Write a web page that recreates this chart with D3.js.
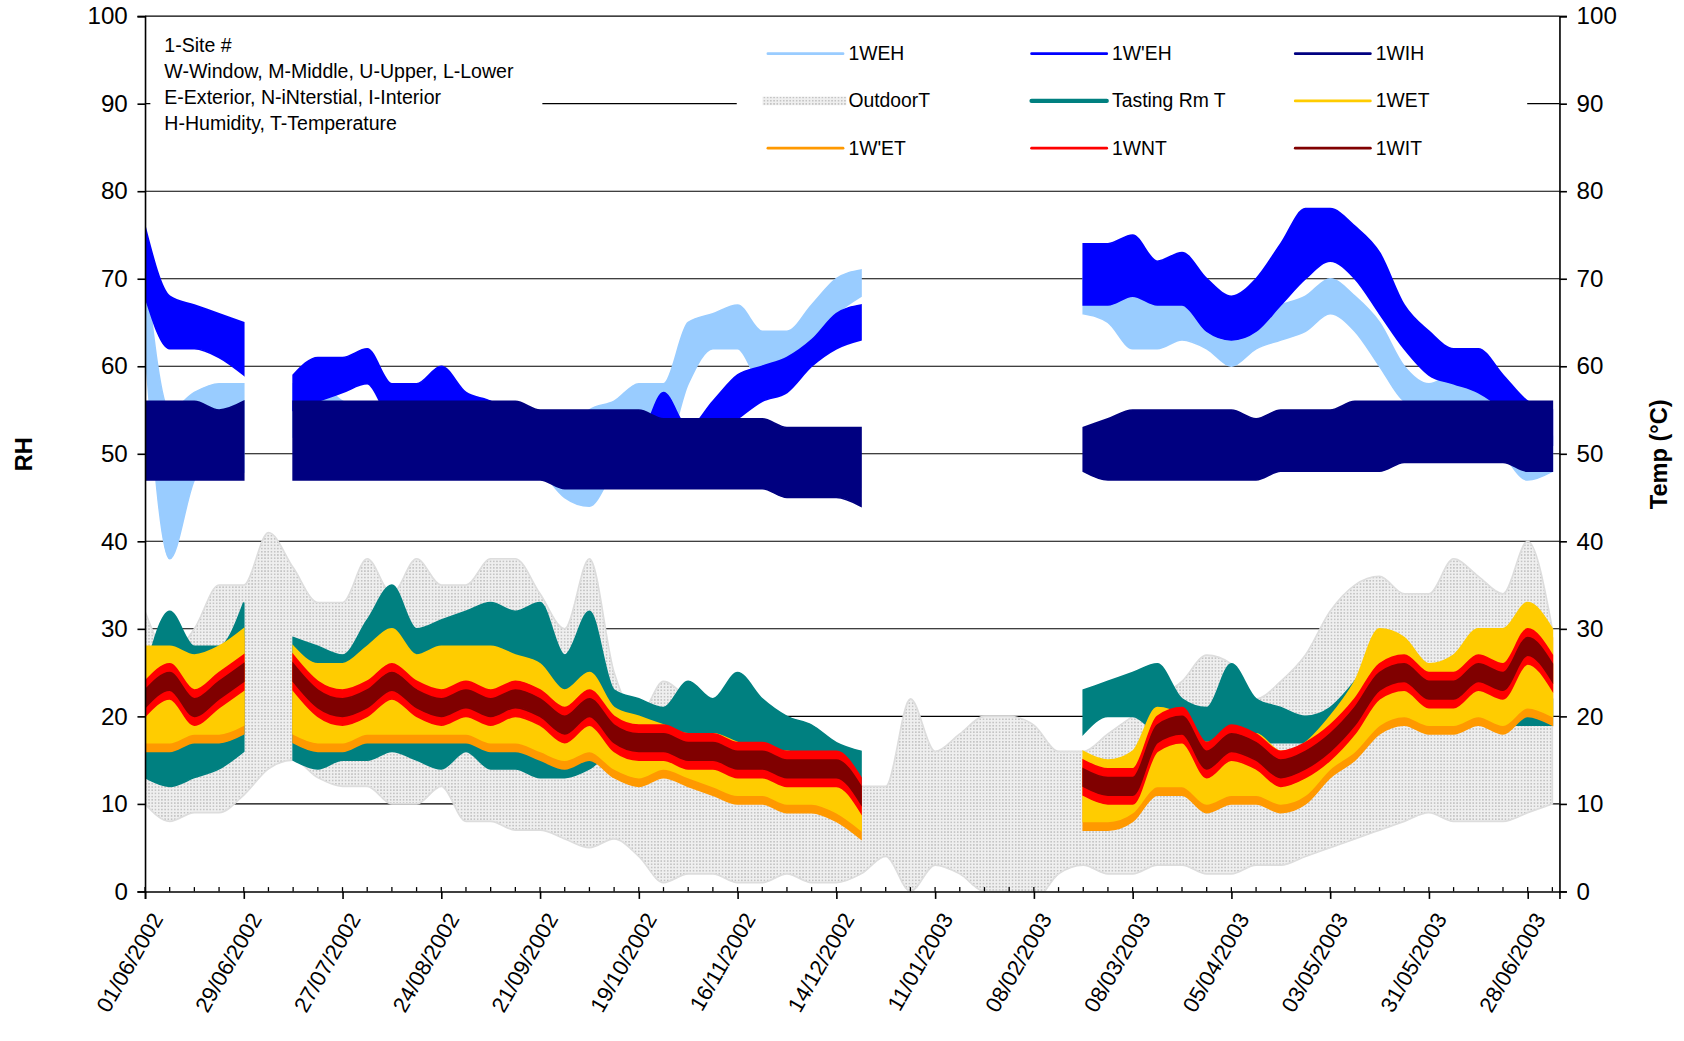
<!DOCTYPE html>
<html lang="en">
<head>
<meta charset="UTF-8">
<title>Site 1 RH and Temperature</title>
<style>
  body { margin: 0; background: #fff; }
  svg text { font-family: "Liberation Sans", Arial, sans-serif; }
</style>
<script src="https://d3js.org/d3.v7.min.js"></script>
</head>
<body>
<svg id="chart" width="1684" height="1041"></svg>
<script>
// weekly samples starting 01/06/2002 (58 weeks); each series stored as low / high of the daily swing
const N = null;
const startDate = new Date(2002, 5, 1);
const weeks = d3.range(58).map(i => d3.timeDay.offset(startDate, i * 7));

const tickLabels = ["01/06/2002","29/06/2002","27/07/2002","24/08/2002","21/09/2002","19/10/2002",
  "16/11/2002","14/12/2002","11/01/2003","08/02/2003","08/03/2003","05/04/2003","03/05/2003",
  "31/05/2003","28/06/2003"];

const weh_lo = [62,38,47,50,48,N,52,54,50,50,48,50,50,50,50,49,48,45,44,48,50,50,58,62,62,58,60,63,66,68,N,N,N,N,N,N,N,N,66,65,62,62,63,62,60,62,63,64,66,64,60,56,55,55,54,50,47,48];
const weh_hi = [72,55,57,58,58,N,58,58,56,55,55,56,56,55,55,54,53,52,55,56,58,58,65,66,67,64,64,67,70,71,N,N,N,N,N,N,N,N,70,69,68,68,68,66,65,66,67,68,70,68,65,60,58,59,58,55,52,52];

const wpeh_lo = [68,62,62,61,59,N,55,56,57,58,54,55,56,53,52,50,49,48,47,47,48,50,48,52,54,56,57,60,62,63,N,N,N,N,N,N,N,N,67,67,68,67,67,64,63,64,67,70,72,70,66,62,59,58,57,55,52,51];
const wpeh_hi = [76,68,67,66,65,N,59,61,61,62,58,58,60,57,56,54,53,52,51,52,52,57,53,56,59,60,61,63,66,67,N,N,N,N,N,N,N,N,74,74,75,72,73,70,68,70,74,78,78,76,73,67,64,62,62,59,56,55];

const wih_lo = [47,47,47,47,47,N,47,47,47,47,47,47,47,47,47,47,47,46,46,46,46,46,46,46,46,46,45,45,45,44,N,N,N,N,N,N,N,N,48,47,47,47,47,47,47,47,48,48,48,48,48,49,49,49,49,49,48,48];
const wih_hi = [56,56,56,55,56,N,56,56,56,56,56,56,56,56,56,56,55,55,55,55,55,54,54,54,54,54,53,53,53,53,N,N,N,N,N,N,N,N,53,54,55,55,55,55,55,54,55,55,55,56,56,56,56,56,56,56,56,56];

const out_lo = [10,8,9,9,11,14,15,13,12,12,10,10,12,8,8,7,7,6,5,6,4,1,2,2,1,1,2,1,1,2,4,0,3,2,0,0,-1,2,3,2,2,3,3,2,2,3,3,4,5,6,7,8,9,8,8,8,9,10];
const out_hi = [32,27,30,35,35,41,37,33,33,38,34,38,35,35,38,38,34,30,38,25,20,24,22,20,18,18,17,16,16,12,12,22,16,18,20,20,19,16,16,18,20,22,24,27,26,22,24,27,32,35,36,34,34,38,36,34,40,30];

const tast_lo = [13,12,13,14,16,N,15,14,15,15,16,15,14,16,14,14,13,13,14,16,16,16,16,16,14,14,14,13,12,12,N,N,N,N,N,N,N,N,18,20,20,18,17,17,18,17,17,17,17,19,20,21,21,21,21,19,19,19];
const tast_hi = [25,32,28,28,33,N,29,28,27,31,35,30,31,32,33,32,33,27,32,23,22,21,24,22,25,22,20,19,17,16,N,N,N,N,N,N,N,N,23,24,25,26,22,21,26,22,21,20,21,24,28,27,25,26,26,24,24,22];

const wpet_lo = [16,16,17,17,18,N,17,16,16,17,17,17,17,17,16,16,15,14,15,13,12,13,12,11,10,10,9,9,8,6,N,N,N,N,N,N,N,N,7,7,8,11,11,9,10,10,9,10,13,15,18,19,18,18,19,18,20,19];
const wpet_hi = [27,27,26,27,29,N,27,25,25,27,29,26,27,27,27,26,25,22,24,20,19,18,17,17,16,15,15,14,14,11,N,N,N,N,N,N,N,N,15,14,15,20,19,16,17,17,15,16,19,23,29,28,25,26,29,29,32,29];

const wet_lo = [17,17,18,18,19,N,18,17,17,18,18,18,18,18,17,17,16,15,16,14,13,14,13,12,11,11,10,10,9,7,N,N,N,N,N,N,N,N,8,8,9,12,12,10,11,11,10,11,14,16,19,20,19,19,20,19,21,20];
const wet_hi = [28,28,27,28,30,N,28,26,26,28,30,27,28,28,28,27,26,23,25,21,20,19,18,18,17,16,16,15,15,12,N,N,N,N,N,N,N,N,16,15,16,21,20,17,18,18,16,17,20,24,30,29,26,27,30,30,33,30];

const wnt_lo = [20,22,19,21,23,N,23,20,19,20,22,20,19,20,19,20,19,17,19,16,15,15,14,14,13,13,12,12,12,9,N,N,N,N,N,N,N,N,11,10,10,16,17,13,15,14,12,13,15,18,22,23,21,21,23,22,26,23];
const wnt_hi = [24,26,23,25,27,N,27,24,23,24,26,24,23,24,23,24,23,21,23,20,19,19,18,18,17,17,16,16,16,13,N,N,N,N,N,N,N,N,15,14,14,20,21,17,19,18,16,17,19,22,26,27,25,25,27,26,30,27];

const wit_lo = [21,23,20,22,24,N,24,21,20,21,23,21,20,21,20,21,20,18,20,17,16,16,15,15,14,14,13,13,13,10,N,N,N,N,N,N,N,N,12,11,11,17,18,14,16,15,13,14,16,19,23,24,22,22,24,23,27,24];
const wit_hi = [23,25,22,24,26,N,26,23,22,23,25,23,22,23,22,23,22,20,22,19,18,18,17,17,16,16,15,15,15,12,N,N,N,N,N,N,N,N,14,13,13,19,20,16,18,17,15,16,18,21,25,26,24,24,26,25,29,26];

const series = [
  { name: "OutdoorT",     lo: out_lo,  hi: out_hi,  color: "#d8d8d8", pattern: true },
  { name: "Tasting Rm T", lo: tast_lo, hi: tast_hi, color: "#008080" },
  { name: "1W'ET",        lo: wpet_lo, hi: wpet_hi, color: "#ff9900" },
  { name: "1WET",         lo: wet_lo,  hi: wet_hi,  color: "#ffcc00" },
  { name: "1WNT",         lo: wnt_lo,  hi: wnt_hi,  color: "#ff0000" },
  { name: "1WIT",         lo: wit_lo,  hi: wit_hi,  color: "#800000" },
  { name: "1WEH",         lo: weh_lo,  hi: weh_hi,  color: "#99ccff" },
  { name: "1W'EH",        lo: wpeh_lo, hi: wpeh_hi, color: "#0000ff" },
  { name: "1WIH",         lo: wih_lo,  hi: wih_hi,  color: "#000080" }
];

const legendOrder = ["1WEH","1W'EH","1WIH","OutdoorT","Tasting Rm T","1WET","1W'ET","1WNT","1WIT"];
const notes = ["1-Site #","W-Window, M-Middle, U-Upper, L-Lower","E-Exterior, N-iNterstial, I-Interior","H-Humidity, T-Temperature"];

// layout was measured on a 1568px wide copy, so everything is scaled up to 1684
const svg = d3.select("#chart").append("g").attr("transform", `scale(${1684 / 1568})`);
const pL = 135, pR = 1452, pT = 15, pB = 830;

const x = d3.scaleTime()
  .domain([startDate, d3.timeDay.offset(startDate, 401)])
  .range([pL, pR]);
const y = d3.scaleLinear().domain([0, 100]).range([pB, pT]);

// dotted pattern for outdoor temperature
const defs = svg.append("defs");
const pat = defs.append("pattern").attr("id", "dots").attr("width", 3).attr("height", 3)
  .attr("patternUnits", "userSpaceOnUse");
pat.append("rect").attr("width", 3).attr("height", 3).attr("fill", "#efefef");
pat.append("rect").attr("width", 1.5).attr("height", 1.5).attr("fill", "#c4c4c4");
defs.append("clipPath").attr("id", "plotclip").append("rect")
  .attr("x", pL).attr("y", pT).attr("width", pR - pL).attr("height", pB - pT);

// gridlines
svg.append("g").selectAll("line").data(d3.range(10, 100, 10)).join("line")
  .attr("x1", pL).attr("x2", pR)
  .attr("y1", d => y(d)).attr("y2", d => y(d))
  .attr("stroke", "#000").attr("stroke-width", 1);

// series bands
const plot = svg.append("g").attr("clip-path", "url(#plotclip)");
series.forEach(s => {
  const area = d3.area()
    .defined((d, i) => s.lo[i] !== null)
    .x(d => x(d))
    .y0((d, i) => y(s.lo[i]))
    .y1((d, i) => y(s.hi[i]))
    .curve(d3.curveMonotoneX);
  plot.append("path").datum(weeks)
    .attr("d", area)
    .attr("fill", s.pattern ? "url(#dots)" : s.color)
    .attr("stroke", s.pattern ? "#dddddd" : s.color)
    .attr("stroke-width", 1.5);
});

// legend boxes (white backgrounds hide the gridline under them)
svg.append("rect").attr("x", 140).attr("y", 26).attr("width", 365).attr("height", 108).attr("fill", "#fff");
svg.append("rect").attr("x", 686).attr("y", 26).attr("width", 736).attr("height", 128).attr("fill", "#fff");

svg.append("g").selectAll("text").data(notes).join("text")
  .attr("x", 153).attr("y", (d, i) => 48 + i * 24.5)
  .attr("font-size", 18.2).text(d => d);

const lg = svg.append("g");
legendOrder.forEach((name, i) => {
  const s = series.find(t => t.name === name);
  const col = i % 3, row = Math.floor(i / 3);
  const lx = 715 + col * 245.5, ly = 50 + row * 44;
  if (s.pattern) {
    lg.append("rect").attr("x", lx - 5).attr("y", ly - 4).attr("width", 78).attr("height", 8).attr("fill", "url(#dots)");
  } else {
    lg.append("line").attr("x1", lx).attr("x2", lx + 70).attr("y1", ly).attr("y2", ly)
      .attr("stroke", s.color).attr("stroke-width", name === "Tasting Rm T" ? 4 : 2.5)
      .attr("stroke-linecap", "round");
  }
  lg.append("text").attr("x", lx + 75).attr("y", ly + 6).attr("font-size", 18).text(name);
});

// axes
const yl = svg.append("g").attr("transform", `translate(${pL},0)`)
  .call(d3.axisLeft(y).ticks(10).tickSize(7).tickPadding(9));
const yr = svg.append("g").attr("transform", `translate(${pR},0)`)
  .call(d3.axisRight(y).ticks(10).tickSize(7).tickPadding(9));
[yl, yr].forEach(g => {
  g.selectAll("text").attr("font-size", 22.5).attr("fill", "#000");
  g.selectAll("line, path").attr("stroke", "#000").attr("stroke-width", 1.5);
});
svg.append("line").attr("x1", pL).attr("x2", pR).attr("y1", pT).attr("y2", pT).attr("stroke", "#000");

// weekly minor ticks pointing into the plot
svg.append("g").selectAll("line").data(weeks).join("line")
  .attr("x1", d => x(d)).attr("x2", d => x(d))
  .attr("y1", pB).attr("y2", pB - 4)
  .attr("stroke", "#000").attr("stroke-width", 1.2);

const tickDates = tickLabels.map(d3.timeParse("%d/%m/%Y"));
const xa = svg.append("g").attr("transform", `translate(0,${pB})`)
  .call(d3.axisBottom(x).tickValues(tickDates).tickFormat(d3.timeFormat("%d/%m/%Y")).tickSize(7));
xa.selectAll("line, path").attr("stroke", "#000").attr("stroke-width", 1.5);
xa.selectAll("text")
  .attr("font-size", 20.5).attr("fill", "#000")
  .attr("text-anchor", "end")
  .attr("transform", "translate(0,6) rotate(-60)")
  .attr("dx", "-0.4em").attr("dy", "0.7em");

svg.append("text").attr("transform", "translate(30,423) rotate(-90)")
  .attr("text-anchor", "middle").attr("font-size", 22).attr("font-weight", "bold").text("RH");
svg.append("text").attr("transform", "translate(1552,423) rotate(-90)")
  .attr("text-anchor", "middle").attr("font-size", 22).attr("font-weight", "bold").text("Temp (°C)");
</script>
</body>
</html>
